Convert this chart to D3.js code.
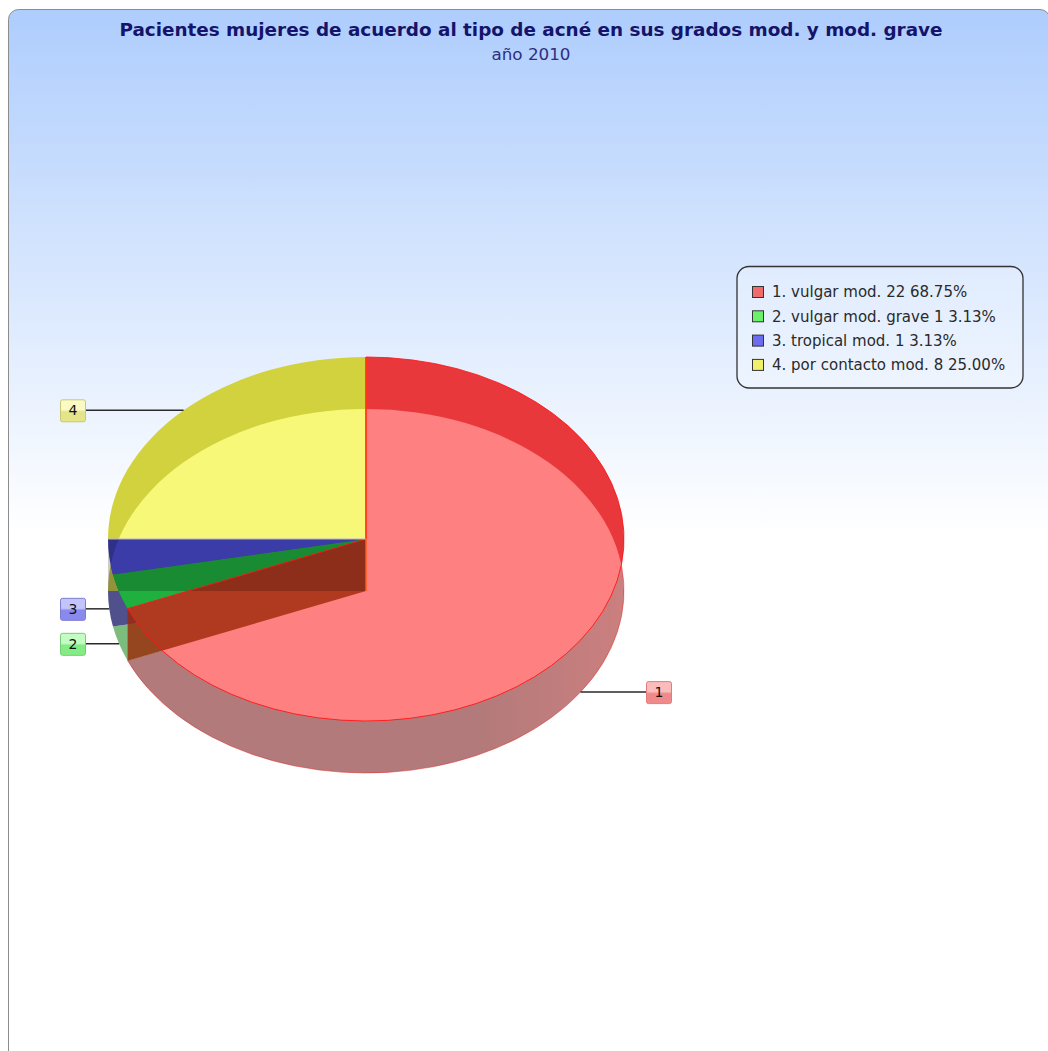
<!DOCTYPE html>
<html>
<head>
<meta charset="utf-8">
<script src="https://cdn.jsdelivr.net/npm/d3@7"></script>
<style>
  body { margin: 0; background: #fff; }
</style>
</head>
<body>
<svg id="chart" width="1048" height="1051"></svg>
<script>
// data
const categories = ['vulgar mod.', 'vulgar mod. grave', 'tropical mod.', 'por contacto mod.']
const values = [22, 1, 1, 8]
const title = 'Pacientes mujeres de acuerdo al tipo de acné en sus grados mod. y mod. grave'
const subtitle = 'año 2010'

// colours per slice
const topColors = ['#ff8080', '#20b040', '#4b4bd4', '#f8f878']
const bandColors = [['#e8383c', '#cc4242'], ['#1a9a2a', '#1a9a2a'], ['#3c3caa', '#3c3caa'], ['#d2d23e', '#e8e83c']]
const wallColors = [['#b27a7a', '#da8282', '#a47474'], ['#7cbc7c', '#7cbc7c', '#7cbc7c'], ['#50508c', '#50508c', '#50508c'], ['#b8b84c', '#b8b84c', '#b8b84c']]
const legendColors = ['#f06c6c', '#6cf06c', '#6c6cf0', '#f0f06c']
const labelColors = [['#fcbcbc', '#f08a8a', '#e07c7c'], ['#c4fcc4', '#84ec84', '#78cc78'], ['#c4c4fc', '#8a8aee', '#7c7cd0'], ['#fafac4', '#e4e488', '#c8c878']]
const faceStyles = [{ fill: '#9c2808', opacity: 0.8 }, null, { fill: '#000', opacity: 0.2 }]

const cx = 366, cy = 539, rx = 258, ry = 182, depth = 52
const cy2 = cy + depth
const k = ry / rx

const svg = d3.select('#chart')
const defs = svg.append('defs')

// background panel
const bg = defs.append('linearGradient').attr('id', 'bg')
    .attr('gradientUnits', 'userSpaceOnUse')
    .attr('x1', 0).attr('y1', 9).attr('x2', 0).attr('y2', 535)
bg.append('stop').attr('offset', 0).attr('stop-color', '#aecdfd')
bg.append('stop').attr('offset', 1).attr('stop-color', '#ffffff')

svg.append('rect')
    .attr('x', 8.5).attr('y', 9.5)
    .attr('width', 1041.5).attr('height', 1052)
    .attr('rx', 10)
    .attr('fill', 'url(#bg)')
    .attr('stroke', '#8c8c8c')

svg.append('text')
    .attr('x', 531).attr('y', 36)
    .attr('text-anchor', 'middle')
    .attr('font-family', 'DejaVu Sans Condensed, DejaVu Sans, sans-serif')
    .attr('font-weight', 'bold')
    .attr('font-size', 18)
    .attr('fill', '#14146a')
    .attr('textLength', 823)
    .attr('lengthAdjust', 'spacingAndGlyphs')
    .text(title)

svg.append('text')
    .attr('x', 531).attr('y', 60)
    .attr('text-anchor', 'middle')
    .attr('font-family', 'DejaVu Sans Condensed, DejaVu Sans, sans-serif')
    .attr('font-size', 16)
    .attr('fill', '#2e2e80')
    .attr('textLength', 79)
    .attr('lengthAdjust', 'spacingAndGlyphs')
    .text(subtitle)

// pie geometry
const pie = d3.pie().sort(null).startAngle(0).endAngle(2 * Math.PI)(values)
const arc = d3.arc().innerRadius(0).outerRadius(rx)
const total = d3.sum(values)

function pt(a, y) {
    return [cx + rx * Math.sin(a), y - ry * Math.cos(a)]
}

// gradients for band and walls
bandColors.forEach((c, i) => {
    const g = defs.append('linearGradient').attr('id', 'band' + i)
        .attr('gradientUnits', 'userSpaceOnUse')
        .attr('x1', i == 3 ? cx - rx : cx).attr('y1', 0)
        .attr('x2', i == 3 ? cx : cx + rx).attr('y2', 0)
    g.append('stop').attr('offset', 0).attr('stop-color', c[0])
    g.append('stop').attr('offset', 1).attr('stop-color', c[1])
})
wallColors.forEach((c, i) => {
    const g = defs.append('linearGradient').attr('id', 'wall' + i)
        .attr('gradientUnits', 'userSpaceOnUse')
        .attr('x1', cx - rx).attr('y1', 0)
        .attr('x2', cx + rx).attr('y2', 0)
    g.append('stop').attr('offset', 0).attr('stop-color', c[0])
    g.append('stop').attr('offset', 0.45).attr('stop-color', c[1])
    g.append('stop').attr('offset', 1).attr('stop-color', c[2])
})
defs.append('clipPath').attr('id', 'clipB')
    .append('ellipse')
    .attr('cx', cx).attr('cy', cy2).attr('rx', rx).attr('ry', ry)

// bottom faces, seen as the side wall
svg.append('g')
    .selectAll('path')
    .data(pie)
    .join('path')
    .attr('d', arc)
    .attr('transform', `translate(${cx},${cy2}) scale(1,${k})`)
    .attr('fill', (d, i) => `url(#wall${i})`)
    .attr('stroke', (d, i) => i == 0 ? 'rgba(230,40,40,0.5)' : 'none')
    .attr('vector-effect', 'non-scaling-stroke')

// top faces, darker band
svg.append('g')
    .selectAll('path')
    .data(pie)
    .join('path')
    .attr('d', arc)
    .attr('transform', `translate(${cx},${cy}) scale(1,${k})`)
    .attr('fill', (d, i) => `url(#band${i})`)

// top faces over the bottom faces, lighter
svg.append('g')
    .attr('clip-path', 'url(#clipB)')
    .selectAll('path')
    .data(pie)
    .join('path')
    .attr('d', arc)
    .attr('transform', `translate(${cx},${cy}) scale(1,${k})`)
    .attr('fill', (d, i) => topColors[i])

// radial faces
pie.forEach((d, i) => {
    const st = faceStyles[i]
    if (!st) return
    const a = d.endAngle
    const p = [[cx, cy], pt(a, cy), pt(a, cy2), [cx, cy2]]
    svg.append('polygon')
        .attr('points', p.map(q => q.join(',')).join(' '))
        .attr('fill', st.fill)
        .attr('fill-opacity', st.opacity)
})
const p0 = [[cx, cy], pt(pie[0].startAngle, cy), pt(pie[0].startAngle, cy2), [cx, cy2]]
svg.append('polygon')
    .attr('points', p0.map(q => q.join(',')).join(' '))
    .attr('fill', 'none')
    .attr('stroke', '#ff5a1a')
    .attr('stroke-width', 1.5)

// outline of the red top
svg.append('path')
    .attr('d', arc(pie[0]))
    .attr('transform', `translate(${cx},${cy}) scale(1,${k})`)
    .attr('fill', 'none')
    .attr('stroke', 'rgba(255,20,20,0.85)')
    .attr('vector-effect', 'non-scaling-stroke')
const pl = pt(pie[2].endAngle, cy)
svg.append('line')
    .attr('x1', cx).attr('y1', cy).attr('x2', pl[0]).attr('y2', pl[1])
    .attr('stroke', '#b4b4d4').attr('stroke-width', 1)

// slice labels
pie.forEach((d, i) => {
    const g = defs.append('linearGradient').attr('id', 'lab' + i)
        .attr('x1', 0).attr('y1', 0).attr('x2', 0).attr('y2', 1)
    g.append('stop').attr('offset', 0).attr('stop-color', labelColors[i][0])
    g.append('stop').attr('offset', 0.45).attr('stop-color', labelColors[i][0])
    g.append('stop').attr('offset', 0.55).attr('stop-color', labelColors[i][1])
    g.append('stop').attr('offset', 1).attr('stop-color', labelColors[i][1])

    const mid = (d.startAngle + d.endAngle) / 2
    const anchor = pt(mid, Math.cos(mid) >= 0 ? cy : cy2)
    const left = Math.sin(mid) < 0
    const bw = 25, bh = 22
    const bx = left ? cx - rx - 23 - bw : cx + rx + 22
    const by = anchor[1] - bh / 2

    svg.append('line')
        .attr('x1', anchor[0]).attr('y1', anchor[1])
        .attr('x2', left ? bx + bw : bx).attr('y2', anchor[1])
        .attr('stroke', '#2a2a2a').attr('stroke-width', 1.5)
    svg.append('rect')
        .attr('x', bx + 0.5).attr('y', by + 0.5)
        .attr('width', bw).attr('height', bh)
        .attr('rx', 2)
        .attr('fill', `url(#lab${i})`)
        .attr('stroke', labelColors[i][2])
    svg.append('text')
        .attr('x', bx + bw / 2 + 0.5).attr('y', anchor[1] + 5)
        .attr('text-anchor', 'middle')
        .attr('font-family', 'DejaVu Sans, sans-serif')
        .attr('font-size', 14)
        .attr('fill', '#111')
        .text(i + 1)
})

// legend
const legend = svg.append('g')
legend.append('rect')
    .attr('x', 737).attr('y', 266.5)
    .attr('width', 286).attr('height', 121.5)
    .attr('rx', 12)
    .attr('fill', 'rgba(255,255,255,0.25)')
    .attr('stroke', '#333').attr('stroke-width', 1.3)

const rows = legend.selectAll('g.row')
    .data(pie)
    .join('g')
    .attr('class', 'row')
    .attr('transform', (d, i) => `translate(752,${286 + i * 24.3})`)
rows.append('rect')
    .attr('x', 0.5).attr('y', 0.5)
    .attr('width', 11).attr('height', 11)
    .attr('fill', (d, i) => legendColors[i])
    .attr('stroke', '#333')
rows.append('text')
    .attr('x', 20).attr('y', 11.3)
    .attr('font-family', 'DejaVu Sans, sans-serif')
    .attr('font-size', 15)
    .attr('fill', '#2a2a2a')
    .text((d, i) => `${i + 1}. ${categories[i]} ${d.value} ${(d.value / total * 100).toFixed(2)}%`)
</script>
</body>
</html>
